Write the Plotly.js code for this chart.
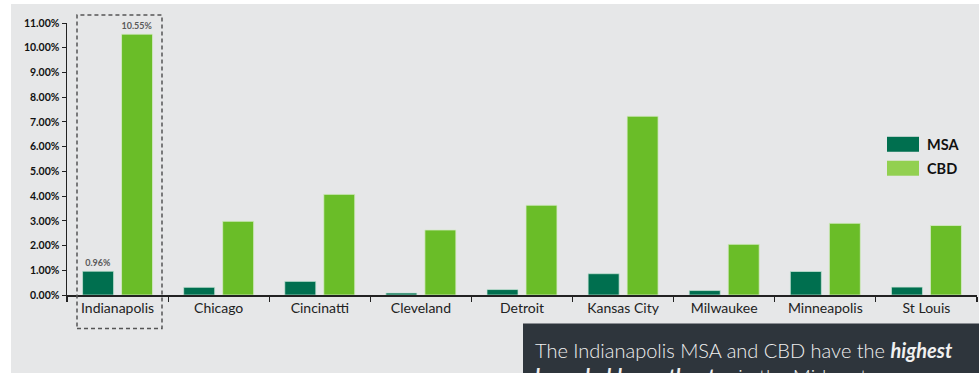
<!DOCTYPE html>
<html>
<head>
<meta charset="utf-8">
<script src="https://cdn.plot.ly/plotly-3.0.1.min.js"></script>
<style>html,body{margin:0;padding:0;background:#fff;}#chart{width:979px;height:373px;}</style>
</head>
<body>
<div id="chart"></div>
<script>
const cities = ["Indianapolis", "Chicago", "Cincinatti", "Cleveland", "Detroit", "Kansas City", "Milwaukee", "Minneapolis", "St Louis"];
const msaValues = [0.96, 0.31, 0.55, 0.08, 0.22, 0.86, 0.18, 0.95, 0.32];
const cbdValues = [10.55, 2.98, 4.07, 2.63, 3.63, 7.23, 2.05, 2.90, 2.81];
const msaLabels = ["0.96%", "", "", "", "", "", "", "", ""];
const cbdLabels = ["10.55%", "", "", "", "", "", "", "", ""];
const yTickVals = [0, 1, 2, 3, 4, 5, 6, 7, 8, 9, 10, 11];
const yTickText = ["0.00%", "1.00%", "2.00%", "3.00%", "4.00%", "5.00%", "6.00%", "7.00%", "8.00%", "9.00%", "10.00%", "11.00%"];
const legendNames = ["MSA", "CBD"];
const calloutText = "The Indianapolis MSA and CBD have the <b><i>highest</i></b><br><b><i>household growth rates</i></b> in the Midwest";

const FONT = "Lato, 'Open Sans', sans-serif";
const MSA_COLOR = "#006F4F";
const CBD_COLOR = "#6ABD28";
const CBD_LEGEND = "#92D050";

const traces = [
  {
    type: "bar", name: legendNames[0], x: cities, y: msaValues,
    marker: {color: MSA_COLOR, line: {color: "rgba(200,230,215,0.7)", width: 1}},
    text: msaLabels, textposition: "outside", cliponaxis: false,
    textfont: {family: FONT, size: 9, color: "#5a5a5a", weight: 700},
    hoverinfo: "x+y"
  },
  {
    type: "bar", name: legendNames[1], x: cities, y: cbdValues,
    marker: {color: CBD_COLOR, line: {color: "rgba(215,235,200,0.8)", width: 1}},
    text: cbdLabels, textposition: "outside", cliponaxis: false,
    textfont: {family: FONT, size: 9, color: "#5a5a5a", weight: 700},
    hoverinfo: "x+y"
  }
];

// pixel -> paper helpers (plot area: x 67..977, y 23..295.5)
const L = 67, R = 977, T = 23, B = 295.5;
const px = v => (v - L) / (R - L);
const py = v => (B - v) / (B - T);

const layout = {
  width: 979, height: 373,
  margin: {l: L, r: 979 - R, t: T, b: 373 - B, pad: 0},
  paper_bgcolor: "#ffffff",
  plot_bgcolor: "rgba(0,0,0,0)",
  barmode: "group",
  bargap: 0.229,
  bargroupgap: 0.205,
  showlegend: false,
  font: {family: FONT, color: "#222"},
  xaxis: {
    type: "category",
    showline: true, linecolor: "#222", linewidth: 1.5,
    ticks: "outside", tickson: "boundaries", ticklen: 5, tickcolor: "#222", tickwidth: 1.2,
    tickfont: {family: FONT, size: 14, color: "#222"},
    showgrid: false, zeroline: false, fixedrange: true
  },
  yaxis: {
    range: [0, 11],
    tickvals: yTickVals, ticktext: yTickText,
    showline: true, linecolor: "#222", linewidth: 1.5,
    ticks: "outside", ticklen: 4, tickcolor: "#222",
    tickfont: {family: FONT, size: 10.5, color: "#111", weight: 700},
    showgrid: false, zeroline: false, fixedrange: true
  },
  shapes: [
    {type: "rect", xref: "paper", yref: "paper", layer: "below",
     x0: px(11), x1: px(985), y0: py(380), y1: py(4),
     fillcolor: "#E6E7E8", line: {width: 0}},
    {type: "rect", xref: "paper", yref: "paper", layer: "above",
     x0: px(77), x1: px(162), y0: py(329), y1: py(15),
     fillcolor: "rgba(0,0,0,0)", line: {color: "#555", width: 1.5, dash: "4px,3px"}},
    {type: "rect", xref: "paper", yref: "paper", layer: "above",
     x0: px(523), x1: px(985), y0: py(380), y1: py(324),
     fillcolor: "#2E353C", line: {width: 0}},
    {type: "rect", xref: "paper", yref: "paper",
     x0: px(887), x1: px(919), y0: py(152), y1: py(137),
     fillcolor: MSA_COLOR, line: {width: 0}},
    {type: "rect", xref: "paper", yref: "paper",
     x0: px(887), x1: px(919), y0: py(176), y1: py(161),
     fillcolor: CBD_LEGEND, line: {width: 0}}
  ],
  annotations: [
    {xref: "paper", yref: "paper", x: px(925), y: py(144.5), xanchor: "left", yanchor: "middle",
     text: "<b>" + legendNames[0] + "</b>", showarrow: false,
     font: {family: FONT, size: 14.5, color: "#111"}},
    {xref: "paper", yref: "paper", x: px(925), y: py(168.5), xanchor: "left", yanchor: "middle",
     text: "<b>" + legendNames[1] + "</b>", showarrow: false,
     font: {family: FONT, size: 14.5, color: "#111"}},
    {xref: "paper", yref: "paper", x: px(533), y: py(337), xanchor: "left", yanchor: "top",
     text: calloutText, showarrow: false, align: "left",
     font: {family: FONT, size: 20, color: "#F0F0F0", weight: 300}}
  ]
};

Plotly.newPlot("chart", traces, layout, {displayModeBar: false, staticPlot: true});
</script>
</body>
</html>
